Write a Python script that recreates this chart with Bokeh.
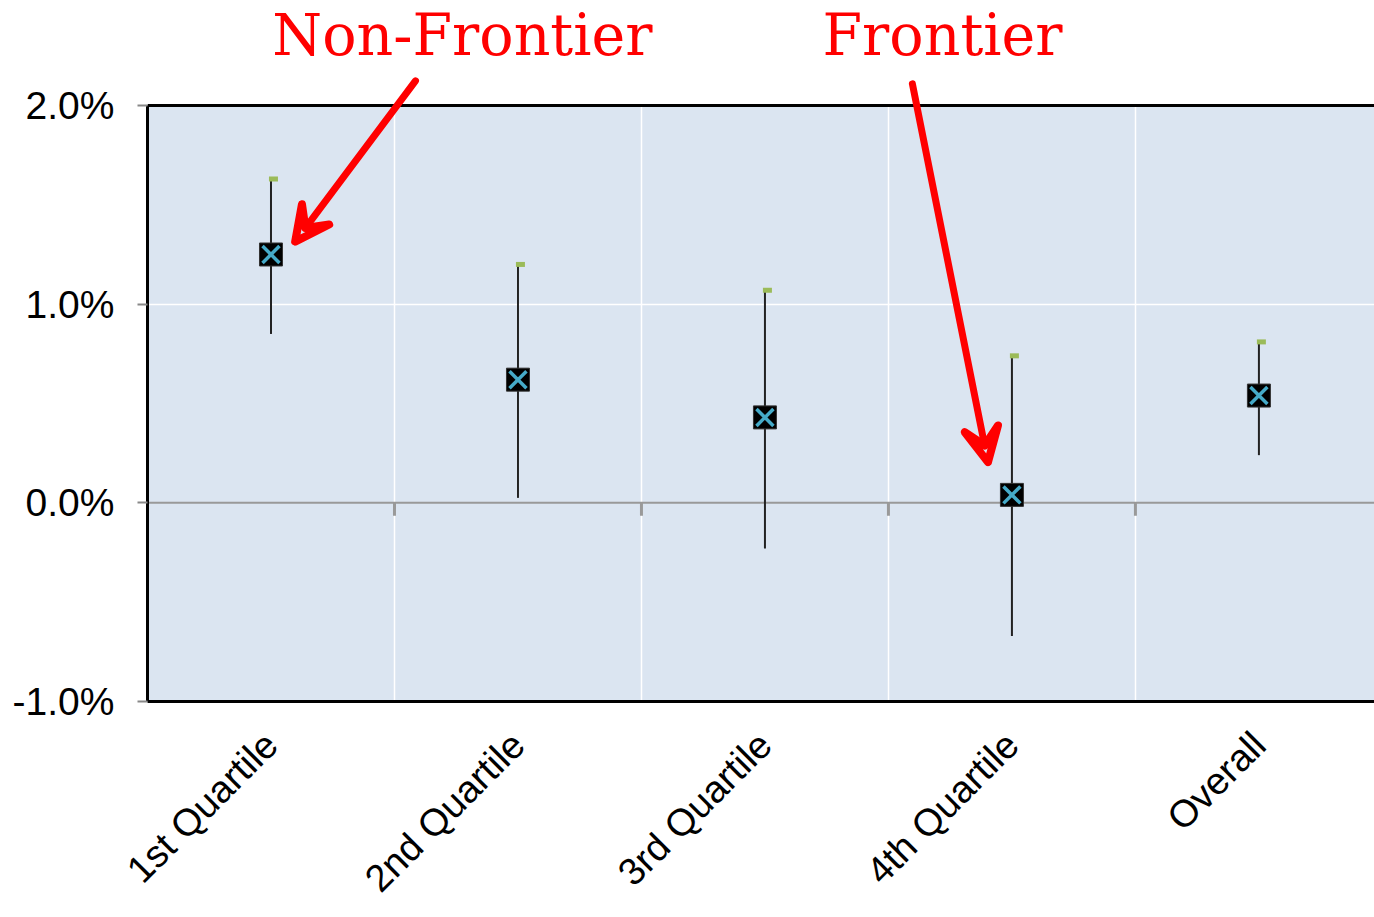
import math
from bokeh.plotting import figure
from bokeh.models import (Range1d, FixedTicker, Span, Label, Arrow, BoxAnnotation,
                          VeeHead, ColumnDataSource)
from bokeh.transform import dodge
from bokeh.embed import file_html
from bokeh.resources import INLINE

# ---- data ----
categories = ["1st Quartile", "2nd Quartile", "3rd Quartile", "4th Quartile", "Overall"]
mean_vals = [1.25, 0.62, 0.43, 0.04, 0.54]
upper_vals = [1.63, 1.20, 1.07, 0.74, 0.81]
lower_vals = [0.85, 0.025, -0.23, -0.67, 0.24]
y_ticks = [-1, 0, 1, 2]
y_tick_labels = ["-1.0%", "0.0%", "1.0%", "2.0%"]

xs = [i + 0.5 for i in range(len(categories))]
boundaries = list(range(1, len(categories)))

src = ColumnDataSource(dict(x=xs, mean=mean_vals, upper=upper_vals, lower=lower_vals))

p = figure(width=1374, height=917, output_backend="svg", toolbar_location=None,
           x_range=Range1d(0, 4.968), y_range=Range1d(-1, 2.5285),
           min_border_left=147, min_border_top=0, min_border_bottom=216,
           min_border_right=0)
p.background_fill_color = "white"
p.border_fill_color = "white"
p.outline_line_color = None

# x axis
p.xaxis.ticker = FixedTicker(ticks=xs)
p.xaxis.major_label_overrides = {x: c for x, c in zip(xs, categories)}
p.xaxis.major_label_orientation = math.pi / 4
p.xaxis.major_tick_line_color = None
p.xaxis.minor_tick_line_color = None
p.xaxis.axis_line_color = "black"
p.xaxis.axis_line_width = 3
p.xaxis.major_label_text_font = "Liberation Sans"
p.xaxis.major_label_text_font_size = "38px"
p.xaxis.major_label_text_color = "black"
p.xaxis.major_label_standoff = 31

# y axis
p.yaxis.ticker = FixedTicker(ticks=y_ticks)
p.yaxis.bounds = (-1, 2)
p.yaxis.major_label_overrides = {t: l for t, l in zip(y_ticks, y_tick_labels)}
p.yaxis.minor_tick_line_color = None
p.yaxis.major_tick_in = 0
p.yaxis.major_tick_out = 10
p.yaxis.major_tick_line_color = "#888888"
p.yaxis.major_tick_line_width = 2
p.yaxis.axis_line_color = "black"
p.yaxis.axis_line_width = 3
p.yaxis.major_label_text_font = "Liberation Sans"
p.yaxis.major_label_text_font_size = "39px"
p.yaxis.major_label_text_color = "black"
p.yaxis.major_label_standoff = 23

# grid
p.xgrid.ticker = FixedTicker(ticks=boundaries)
p.xgrid.grid_line_color = "white"
p.xgrid.grid_line_width = 1.5
p.xgrid.bounds = (-1, 2)
p.ygrid.ticker = FixedTicker(ticks=[1])
p.ygrid.grid_line_color = "white"
p.ygrid.grid_line_width = 1.5

# blue plot region drawn beneath the grid
region = BoxAnnotation(bottom=-1, top=2, left=-1, right=6, fill_color="#dbe5f1",
                       fill_alpha=1, line_color=None, level="underlay")
p.center = [region] + list(p.center)

zero = Span(location=0, dimension="width", line_color="#999999", line_width=2, level="underlay")
p.add_layout(zero)
p.segment(x0=boundaries, y0=[0] * len(boundaries), x1=boundaries,
          y1=[-0.065] * len(boundaries), line_color="#999999", line_width=3)

# error bars
p.segment(x0="x", y0="lower", x1="x", y1="upper", source=src, line_color="#222222", line_width=2)
p.rect(x=dodge("x", 0.01, range=p.x_range), y="upper", width=9, height=5,
       width_units="screen", height_units="screen", source=src,
       fill_color="#9bbb59", line_color=None)
p.scatter(x="x", y="mean", source=src, marker="square", size=23,
          fill_color="black", line_color="#333333", line_width=1)
p.scatter(x="x", y="mean", source=src, marker="x", size=24,
          line_color="#45aac8", line_width=3.5)

# top border of the plot region
p.add_layout(Span(location=2, dimension="width", line_color="black", line_width=3))

# annotations
for txt, lx in [("Non-Frontier", 1.275), ("Frontier", 3.219)]:
    p.add_layout(Label(x=lx, y=2.353, text=txt, text_align="center",
                       text_baseline="alphabetic", text_color="#ff0000",
                       text_font="DejaVu Serif", text_font_size="57px"))

for xs0, ys0, xe, ye in [(1.085, 2.124, 0.598, 1.315), (3.097, 2.109, 3.403, 0.205)]:
    p.add_layout(Arrow(x_start=xs0, y_start=ys0, x_end=xe, y_end=ye,
                       line_color="#ff0000", line_width=7, line_cap="round",
                       end=VeeHead(size=34, line_color="#ff0000", line_width=8,
                                   line_cap="round", line_join="round",
                                   fill_color=None, fill_alpha=0)))

open("out.html", "w").write(file_html(p, INLINE))
